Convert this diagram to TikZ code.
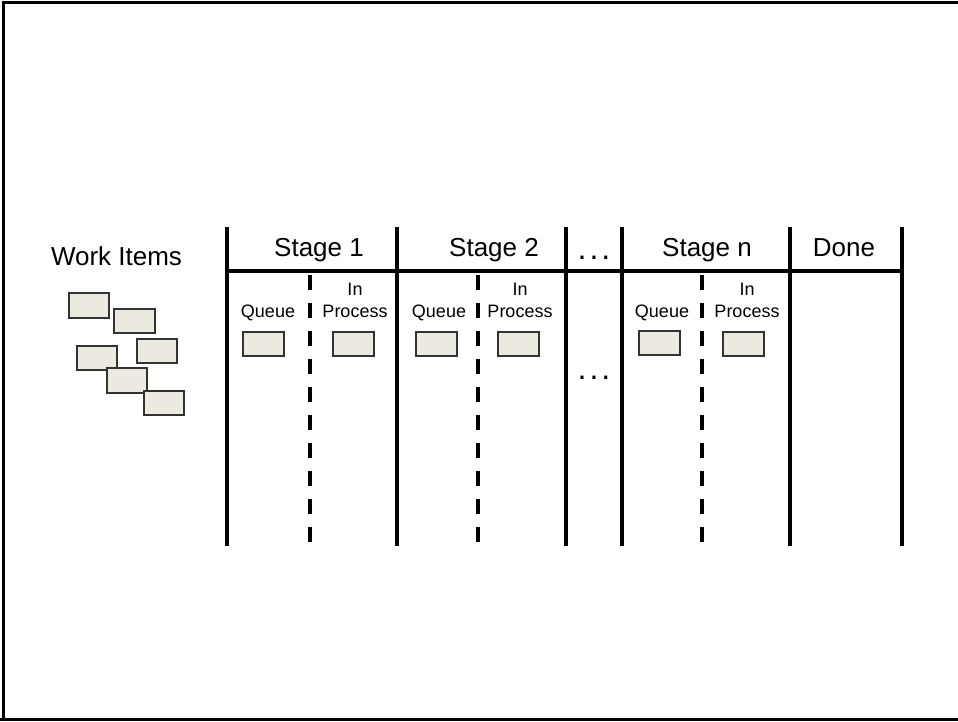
\documentclass[tikz,border=0pt]{standalone}
\usepackage{fontspec}
\setmainfont{Liberation Sans}
\begin{document}
\begin{tikzpicture}[x=1pt,y=-1pt,
  big/.style={font=\fontsize{26}{30}\selectfont, anchor=base, inner sep=0pt},
  small/.style={font=\fontsize{18}{22}\selectfont, anchor=base, inner sep=0pt},
  dotsty/.style={font=\fontsize{32}{36}\selectfont, anchor=base, inner sep=0pt},
  card/.style={draw=black!80, fill=cardfill, line width=1.3pt},
  solidline/.style={line width=3.8pt, line cap=butt},
  dashline/.style={line width=3.8pt, line cap=butt, dash pattern=on 15pt off 13pt},
  frameline/.style={line width=3pt}]
\definecolor{cardfill}{HTML}{ECEAE0}
\useasboundingbox (0,0) rectangle (958,721);
% frame
\draw[frameline] (3,721) -- (3,2.5) -- (958,2.5);
\draw[frameline] (0,719) -- (958,719);
% column lines
\coordinate (t1) at (227,227); \coordinate (b1) at (227,546);
\coordinate (t2) at (397,227); \coordinate (b2) at (397,546);
\coordinate (t3) at (566,227); \coordinate (b3) at (566,546);
\coordinate (t4) at (622,227); \coordinate (b4) at (622,546);
\coordinate (t5) at (790,227); \coordinate (b5) at (790,546);
\coordinate (t6) at (902,227); \coordinate (b6) at (902,546);
\foreach \i in {1,...,6} \draw[solidline] (t\i) -- (b\i);
\coordinate (hl) at (225,271); \coordinate (hr) at (904,271);
\draw[line width=3.5pt] (hl) -- (hr);
% dashed separators
\coordinate (d1t) at (310,275); \coordinate (d1b) at (310,545);
\coordinate (d2t) at (478,275); \coordinate (d2b) at (478,545);
\coordinate (d3t) at (702,275); \coordinate (d3b) at (702,545);
\draw[dashline] (d1t) -- (d1b);
\draw[dashline] (d2t) -- (d2b);
\draw[dashline] (d3t) -- (d3b);
% headers
\node[big] (wi) at (116.5,265) {Work Items};
\node[big] (s1) at (319,256) {Stage 1};
\node[big] (s2) at (494,256) {Stage 2};
\node[big] (sn) at (707,256) {Stage n};
\node[big] (dn) at (844,256) {Done};
\node[dotsty] (dots1) at (594,259) {.\hspace{3pt}.\hspace{3pt}.};
\node[dotsty] (dots2) at (594,379) {.\hspace{3pt}.\hspace{3pt}.};
% sub-headers
\foreach \q/\p/\n in {268/355/a, 439/520/b, 662/747/c}{
  \node[small] (q\n) at (\q,317) {Queue};
  \node[small] (in\n) at (\p,295) {In};
  \node[small] (pr\n) at (\p,317) {Process};
}
% cards in columns
\draw[card] (243,332) rectangle (284,356);
\draw[card] (333,332) rectangle (374,356);
\draw[card] (416,332) rectangle (457,356);
\draw[card] (498,332) rectangle (539,356);
\draw[card] (639,331) rectangle (680,355);
\draw[card] (723,332) rectangle (764,356);
% work items pile
\draw[card] (69,293) rectangle (109,318);
\draw[card] (114,309) rectangle (155,333);
\draw[card] (137,339) rectangle (177,363);
\draw[card] (77,346) rectangle (117,370);
\draw[card] (107,368) rectangle (147,393);
\draw[card] (144,391) rectangle (184,415);
\end{tikzpicture}
\end{document}
